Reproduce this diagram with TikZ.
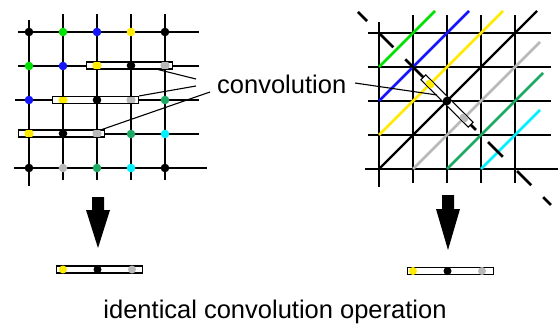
\documentclass[tikz,border=0pt]{standalone}
\usepackage{fontspec}
\setmainfont{Liberation Sans}
\usetikzlibrary{calc}
\definecolor{cGreen}{RGB}{0,225,0}
\definecolor{cBlue}{RGB}{20,20,250}
\definecolor{cYel}{RGB}{255,235,0}
\definecolor{cGray}{RGB}{185,185,185}
\definecolor{cSea}{RGB}{30,170,100}
\definecolor{cCyan}{RGB}{0,240,255}
\newcommand\hkernel[3]{%
  \node[kbox, minimum width=86pt, minimum height=7pt, anchor=west] (#1) at (#2-11,#3) {};
  \begin{scope}
    \clip (#2-10.4,#3-2.9) rectangle (#2+74.4,#3+2.9);
    \fill[cYel] (#2,#3) circle[radius=4.6pt];
    \fill[cGray] (#2+68,#3) circle[radius=4.6pt];
  \end{scope}
  \fill (#2+34,#3) circle[radius=4.3pt];
}
\newcommand\bkernel[4]{% name, left x, y, x of yellow
  \node[kbox, minimum width=86pt, minimum height=7pt, anchor=west] (#1) at (#2,#3) {};
  \fill[cYel] (#4,#3) circle[radius=4pt];
  \fill (#4+34.5,#3) circle[radius=4pt];
  \fill[cGray] (#4+69,#3) circle[radius=4pt];
}
\begin{document}
\begin{tikzpicture}[x=1pt,y=-1pt,
  grid/.style={line width=1.4pt},
  thickgrid/.style={line width=2.9pt},
  kbox/.style={draw=black, line width=1.1pt, fill=white, inner sep=0pt},
  conn/.style={line width=1.1pt},
  diag/.style={line width=2.7pt},
  dsh/.style={line width=2.8pt},
  lbl/.style={font=\fontsize{25.5}{28}\selectfont, inner sep=0pt}]
\useasboundingbox (0,0) rectangle (558,324);

% ---------------- left grid ----------------
\foreach \y in {32,66,134} \draw[grid] (18,\y) -- (199,\y);
\draw[grid] (15,100) -- (199,100);
\foreach \x in {63,97,131,165} \draw[grid] (\x,14) -- (\x,180);
\draw[thickgrid] (14,168) -- (207,168);
\draw[thickgrid] (29,20) -- (29,186);

% dots
\foreach \x/\c in {29/black,63/cGreen,97/cBlue,131/cYel,165/black}
  \fill[\c] (\x,32) circle[radius=4.3pt];
\foreach \x/\c in {29/cGreen,63/cBlue}
  \fill[\c] (\x,66) circle[radius=4.3pt];
\fill[cBlue] (29,100) circle[radius=4.3pt];
\fill[cSea] (165,100) circle[radius=4.3pt];
\fill[cSea] (131,134) circle[radius=4.3pt];
\fill[cCyan] (165,134) circle[radius=4.3pt];
\foreach \x/\c in {29/black,63/cGray,97/cSea,131/cCyan,165/black}
  \fill[\c] (\x,168) circle[radius=4.3pt];

\hkernel{k1}{97}{65.5}
\hkernel{k2}{63}{100}
\hkernel{k3}{29}{133.5}

% ---------------- right grid ----------------
\foreach \y in {33,67,101,135} \draw[grid] (368,\y) -- (551,\y);
\foreach \x in {413,447,481,515} \draw[grid] (\x,15) -- (\x,183);
\draw[thickgrid] (365,169) -- (558,169);
\draw[thickgrid] (379,22) -- (379,187);

\draw[diag, cGreen] (379,67) -- (435,11);
\draw[diag, cBlue] (379,101) -- (469,11);
\draw[diag, cYel] (379,135) -- (503,11);
\draw[diag, black, line width=2.4pt] (379,169) -- (537,11);
\draw[diag, cGray] (413,169) -- (540,42);
\draw[diag, cSea] (447,169) -- (543,73);
\draw[diag, cCyan] (481,169) -- (540,110);

\begin{scope}[shift={(447,101)}, rotate=-45]
  \draw[dsh] (-126,0) -- (-113,0);
  \draw[dsh] (-95,0) -- (-76,0);
  \draw[dsh] (-59,0) -- (41,0);
  \draw[dsh] (58,0) -- (79,0);
  \draw[dsh] (99,0) -- (119,0);
  \draw[dsh] (136,0) -- (147,0);
\end{scope}
\node[kbox, rotate=-45, minimum width=67pt, minimum height=7pt] (k4) at (447,101) {};
\begin{scope}[shift={(447,101)}, rotate=-45]
  \begin{scope}
    \clip (-32.9,-2.9) rectangle (32.9,2.9);
    \fill[cYel] (-24,0) circle[radius=4.6pt];
    \fill[cGray] (24,0) circle[radius=4.6pt];
  \end{scope}
  \fill (0,0) circle[radius=4.3pt];
\end{scope}

% ---------------- label and connectors ----------------
\node[lbl, anchor=base west] (conv) at (217,93.5) {convolution};
\coordinate (c1) at (196,79);
\coordinate (c2) at (196,86);
\coordinate (c3) at (210,92);
\coordinate (c4) at (355,83);
\coordinate (c5) at (437,95);
\draw[conn] ($(k1.south east)+(-15,0)$) -- (c1);
\draw[conn] (k2.north east) -- (c2);
\draw[conn] ($(k3.north east)+(-3,0)$) -- (c3);
\draw[conn] (c4) -- (c5);

% ---------------- arrows ----------------
\fill (92,197) -- (104,197) -- (104,210) -- (110,210) -- (98,248) -- (86,210) -- (92,210) -- cycle;
\fill (442,195) -- (454,195) -- (454,209) -- (460,209) -- (448,250) -- (436,209) -- (442,209) -- cycle;

% ---------------- bottom kernels ----------------
\bkernel{k5}{56}{269.5}{63}
\bkernel{k6}{407}{271}{413}

\node[lbl, anchor=base] (title) at (275,318) {identical convolution operation};
\end{tikzpicture}
\end{document}
